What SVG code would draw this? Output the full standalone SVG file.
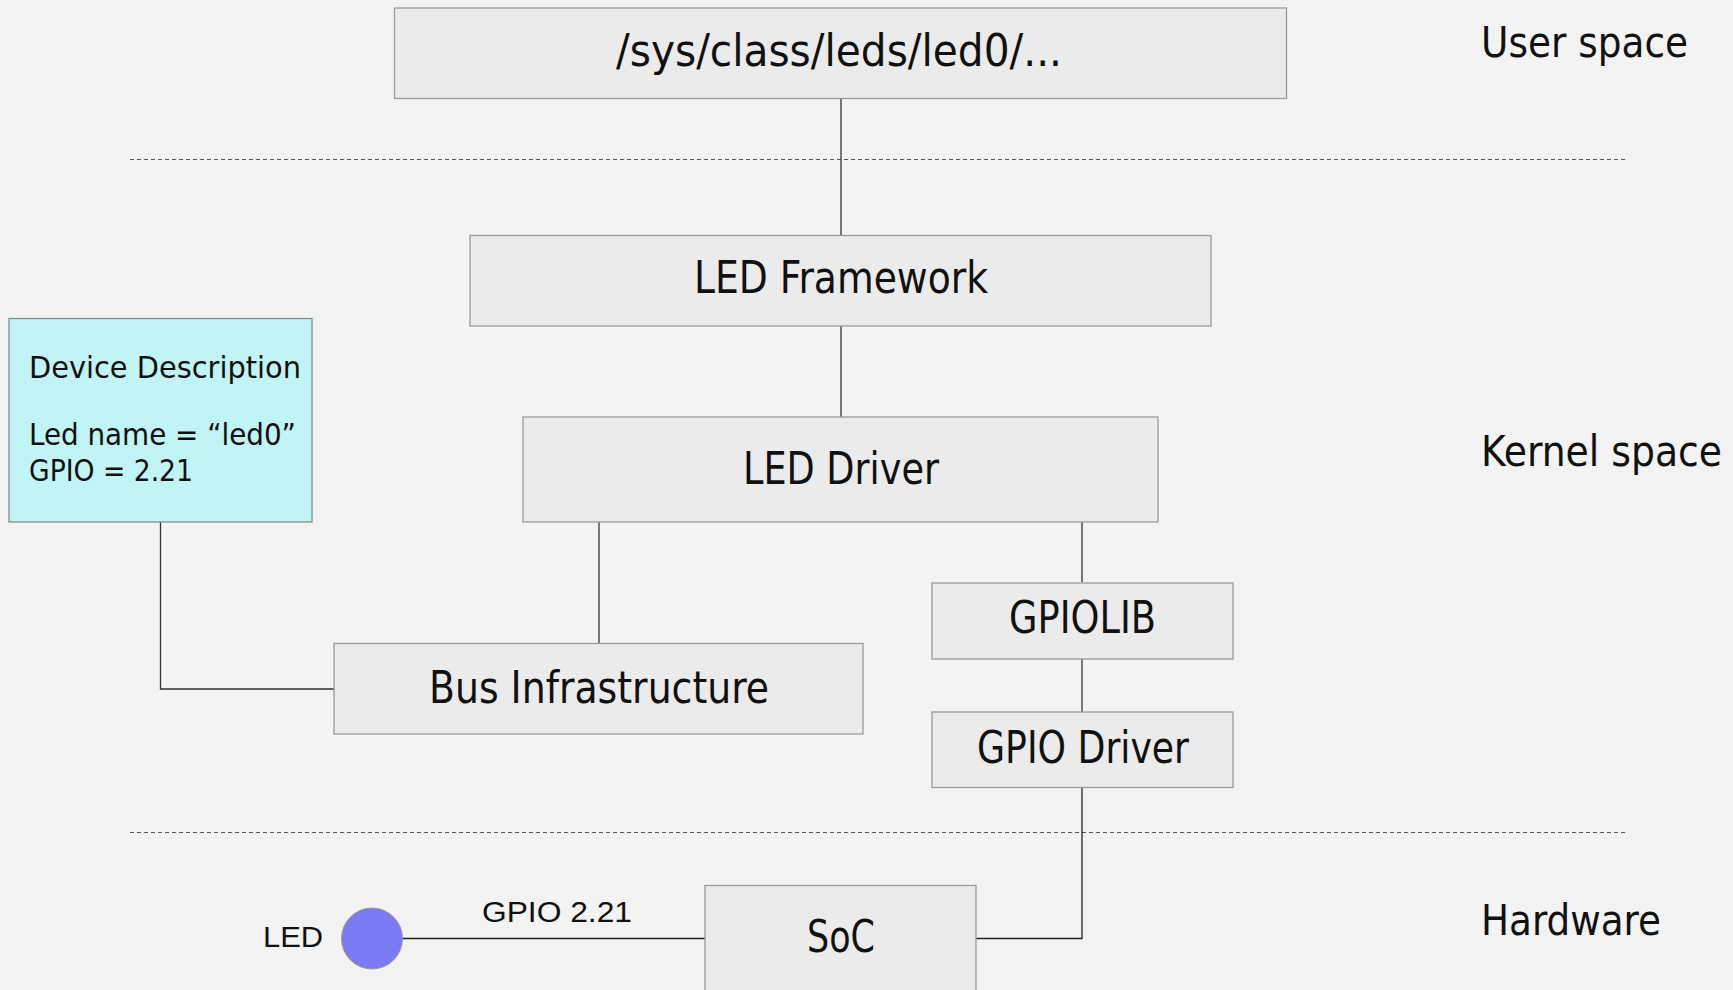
<svg xmlns="http://www.w3.org/2000/svg" width="1733" height="990" viewBox="0 0 1733 990">
  <style>
    .box { fill: #ebebeb; stroke: #9a9a9a; stroke-width: 1.3; }
    .desc { fill: #c1f4f4; stroke: #8a8a8a; stroke-width: 1.3; }
    .lbl { font-family: "DejaVu Sans Condensed", "Liberation Sans Narrow", "Liberation Sans", sans-serif; fill: #111; }
    .big { font-size: 44px; }
    .mid { font-size: 31px; }
    .zone { font-size: 42px; }
    .plain { font-family: "Liberation Sans", Arial, sans-serif; font-size: 30px; fill: #111; }
    .wire { fill: none; stroke: #333; stroke-width: 1.3; }
    .sep { stroke: #555; stroke-width: 1; stroke-dasharray: 4 3; }
  </style>

  <rect width="1733" height="990" fill="#f3f3f3"/>

  <!-- layer separators -->
  <line class="sep" x1="130" y1="159.5" x2="1627" y2="159.5"/>
  <line class="sep" x1="130" y1="832.5" x2="1627" y2="832.5"/>

  <!-- layer labels -->
  <text class="lbl zone" x="1481" y="57" textLength="207" lengthAdjust="spacingAndGlyphs">User space</text>
  <text class="lbl zone" x="1481" y="466" textLength="241" lengthAdjust="spacingAndGlyphs">Kernel space</text>
  <text class="lbl zone" x="1481" y="935" textLength="180" lengthAdjust="spacingAndGlyphs">Hardware</text>

  <!-- connectors -->
  <g id="connectors">
    <line class="wire" x1="841" y1="98" x2="841" y2="235"/>
    <line class="wire" x1="841" y1="326" x2="841" y2="417"/>
    <line class="wire" x1="599" y1="522" x2="599" y2="643"/>
    <line class="wire" x1="1082" y1="522" x2="1082" y2="582"/>
    <line class="wire" x1="1082" y1="659" x2="1082" y2="712"/>
    <polyline class="wire" points="1082,787 1082,938.5 976,938.5" style="stroke:#222"/>
    <polyline class="wire" points="160.5,522 160.5,689 334,689"/>
    <line class="wire" x1="402" y1="938.5" x2="705" y2="938.5" style="stroke:#222"/>
    <text class="plain" x="482" y="922" textLength="150" lengthAdjust="spacingAndGlyphs">GPIO 2.21</text>
  </g>

  <g id="sysfs">
    <rect class="box" x="394.5" y="8" width="892" height="90.5"/>
    <text class="lbl big" x="616" y="66" textLength="446" lengthAdjust="spacingAndGlyphs">/sys/class/leds/led0/...</text>
  </g>

  <g id="led-framework">
    <rect class="box" x="470" y="235.5" width="741" height="90.5"/>
    <text class="lbl big" x="694" y="293" textLength="294" lengthAdjust="spacingAndGlyphs">LED Framework</text>
  </g>

  <g id="led-driver">
    <rect class="box" x="523" y="417" width="635" height="105"/>
    <text class="lbl big" x="743" y="484" textLength="196" lengthAdjust="spacingAndGlyphs">LED Driver</text>
  </g>

  <g id="device-description">
    <rect class="desc" x="9" y="318.5" width="303" height="203.5"/>
    <text class="lbl mid" x="29" y="378" textLength="272" lengthAdjust="spacingAndGlyphs">Device Description</text>
    <text class="lbl mid" x="29" y="445" textLength="267" lengthAdjust="spacingAndGlyphs">Led name = “led0”</text>
    <text class="lbl mid" x="29" y="481" textLength="164" lengthAdjust="spacingAndGlyphs">GPIO = 2.21</text>
  </g>

  <g id="bus-infrastructure">
    <rect class="box" x="334" y="643.5" width="529" height="90.5"/>
    <text class="lbl big" x="429" y="703" textLength="340" lengthAdjust="spacingAndGlyphs">Bus Infrastructure</text>
  </g>

  <g id="gpiolib">
    <rect class="box" x="932" y="583" width="301" height="76"/>
    <text class="lbl big" x="1009" y="633" textLength="147" lengthAdjust="spacingAndGlyphs">GPIOLIB</text>
  </g>

  <g id="gpio-driver">
    <rect class="box" x="932" y="712" width="301" height="75.5"/>
    <text class="lbl big" x="977" y="763" textLength="212" lengthAdjust="spacingAndGlyphs">GPIO Driver</text>
  </g>

  <g id="soc">
    <rect class="box" x="705" y="885.5" width="271" height="110"/>
    <text class="lbl big" x="807" y="952" textLength="68" lengthAdjust="spacingAndGlyphs">SoC</text>
  </g>

  <g id="led">
    <circle cx="372" cy="938.5" r="30.5" fill="#7a7af3" stroke="#9a9a9a" stroke-width="1"/>
    <text class="plain" x="263" y="947" textLength="60" lengthAdjust="spacingAndGlyphs">LED</text>
  </g>
</svg>
